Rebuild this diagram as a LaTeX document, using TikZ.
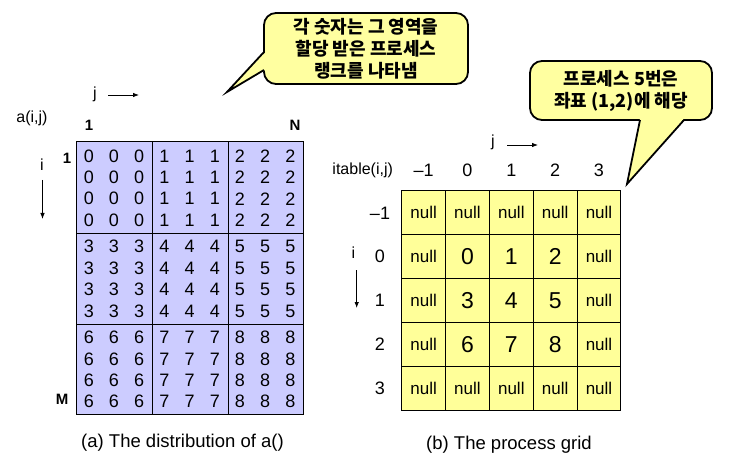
\documentclass[tikz,border=0pt]{standalone}
\usepackage{fontspec}
\setmainfont{Liberation Sans}
\newfontfamily\kofont{Noto Sans CJK KR}
\usetikzlibrary{arrows.meta}
\definecolor{blockblue}{RGB}{204,204,255}
\definecolor{gridyellow}{RGB}{255,255,153}
\definecolor{noteyellow}{RGB}{255,255,160}

\begin{document}
\begin{tikzpicture}[x=1pt,y=-1pt,
  lbl/.style={font=\fontsize{16}{18}\selectfont},
  edge/.style={font=\bfseries\fontsize{15}{17}\selectfont},
  digit/.style={font=\fontsize{18}{20}\selectfont, inner sep=0pt},
  cell/.style={draw, line width=1pt, fill=gridyellow, minimum width=43.85pt, minimum height=43.8pt, inner sep=0pt, font=\fontsize{17}{20}\selectfont},
  big/.style={font=\fontsize{23}{26}\selectfont},
  head/.style={font=\fontsize{18}{20}\selectfont},
  note/.style={draw, line width=1.8pt, fill=noteyellow, rounded corners=12pt, align=center, inner sep=0pt, font=\kofont\bfseries\fontsize{18}{22}\selectfont},
  axis/.style={line width=0.8pt, -{Latex[length=6pt,width=4.5pt]}},
  caption/.style={font=\fontsize{18.5}{22}\selectfont}]
\useasboundingbox (0,0) rectangle (737,468);

\draw[line width=1pt, fill=blockblue] (76.7,141.7) rectangle (303.3,414);
\foreach \x in {152.3,228} \draw[line width=1pt] (\x,141.7) -- (\x,414);
\foreach \y in {234,324.3} \draw[line width=1pt] (76.7,\y) -- (303.3,\y);
\foreach \r in {0,...,11}{
  \foreach \c in {0,...,8}{
    \pgfmathtruncatemacro{\v}{3*floor(\r/4)+floor(\c/3)}
    \pgfmathsetmacro{\yy}{141.7+90.8*floor(\r/4)+45.4+(mod(\r,4)-1.5)*21.4+1}
    \node[digit] (a-\r-\c) at ({88.8+25.2*\c},\yy) {\v};
  }
}
\node[lbl] (aname) at (32,118) {a(i,j)};
\node[edge] (cfirst) at (89,125) {1};
\node[edge] (clast) at (295,125) {N};
\node[edge] (rfirst) at (67,158) {1};
\node[edge] (rlast) at (62,399) {M};
\node[lbl] (jleft) at (95,94) {j};
\coordinate (jleftA) at (108,95);
\coordinate (jleftB) at (139,95);
\draw[axis] (jleftA) -- (jleftB);
\node[lbl] (ileft) at (42,165) {i};
\coordinate (ileftA) at (42.5,180);
\coordinate (ileftB) at (42.5,219);
\draw[axis] (ileftA) -- (ileftB);
\node[caption] (capa) at (182.5,443) {(a) The distribution of a()};

\foreach \i in {-1,...,3}{
  \foreach \j in {-1,...,3}{
    \pgfmathtruncatemacro{\inside}{(\i>-1)*(\i<3)*(\j>-1)*(\j<3)}
    \pgfmathtruncatemacro{\v}{3*\i+\j}
    \pgfmathtruncatemacro{\r}{\i+1}
    \pgfmathtruncatemacro{\c}{\j+1}
    \ifnum\inside=1
      \node[cell,big] (p-\r-\c) at ({423.6+43.85*\c},{212.9+43.8*\r}) {\v};
    \else
      \node[cell] (p-\r-\c) at ({423.6+43.85*\c},{212.9+43.8*\r}) {null};
    \fi
  }
}
\foreach \t [count=\k from 0] in {\textendash1,0,1,2,3}
  \node[head] (colhead-\k) at ({423.6+43.85*\k},170.7) {\t};
\foreach \t [count=\k from 0] in {\textendash1,0,1,2,3}
  \node[head] (rowhead-\k) at (380,{212.9+43.8*\k}) {\t};
\node[lbl] (tname) at (362.7,170.7) {itable(i,j)};
\node[lbl] (jright) at (493,142) {j};
\coordinate (jrightA) at (507,145);
\coordinate (jrightB) at (538,145);
\draw[axis] (jrightA) -- (jrightB);
\node[lbl] (iright) at (353.3,253) {i};
\coordinate (irightA) at (356.7,270);
\coordinate (irightB) at (356.7,308);
\draw[axis] (irightA) -- (irightB);
\node[caption] (capb) at (509,445) {(b) The process grid};

\node[note, minimum width=204pt, minimum height=71pt] (rankbox) at (366,48.5)
  {각 숫자는 그 영역을\\할당 받은 프로세스\\랭크를 나타냄};
\coordinate (rankA) at (264,52);
\coordinate (rankB) at (264,70);
\coordinate (rankTip) at (227,92);
\fill[noteyellow] (265.5,52) -- (rankTip) -- (265.5,70) -- cycle;
\draw[line width=1.8pt] (rankA) -- (rankTip) -- (rankB);

\node[note, minimum width=182pt, minimum height=59pt] (gridbox) at (621,90.5)
  {프로세스 5번은\\좌표 (1,2)에 해당};
\coordinate (gridA) at (640,120);
\coordinate (gridB) at (684,120);
\coordinate (gridTip) at (627,184);
\fill[noteyellow] (640,118.5) -- (gridTip) -- (684,118.5) -- cycle;
\draw[line width=1.8pt] (gridA) -- (gridTip) -- (gridB);
\end{tikzpicture}
\end{document}
